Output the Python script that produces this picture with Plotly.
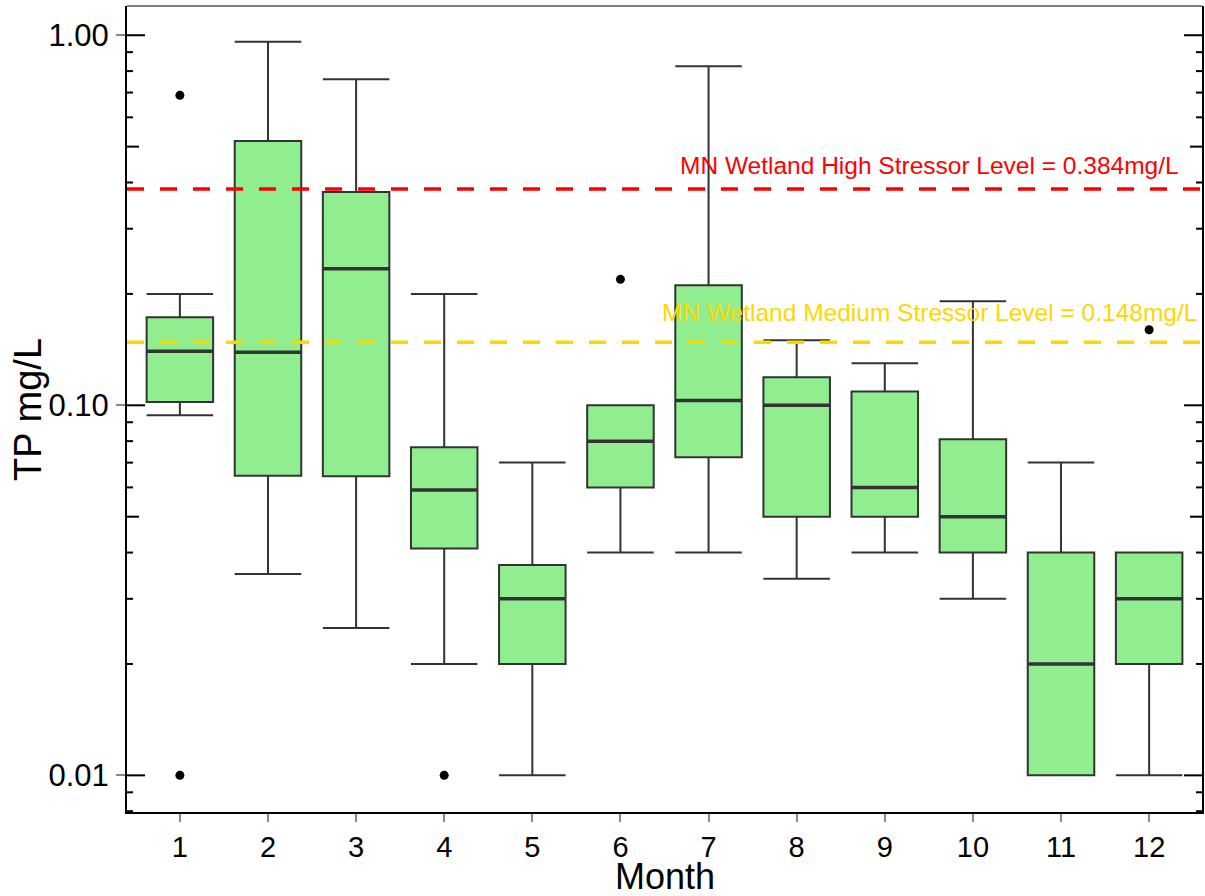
import math
import plotly.graph_objects as go

months = [1, 2, 3, 4, 5, 6, 7, 8, 9, 10, 11, 12]
tick_labels = ["1", "2", "3", "4", "5", "6", "7", "8", "9", "10", "11", "12"]
lower_whisker = [0.094, 0.035, 0.025, 0.020, 0.010, 0.040, 0.040, 0.034, 0.040, 0.030, 0.010, 0.010]
q1_vals = [0.102, 0.0645, 0.0643, 0.041, 0.020, 0.060, 0.0724, 0.050, 0.050, 0.040, 0.010, 0.020]
median_vals = [0.140, 0.139, 0.234, 0.059, 0.030, 0.080, 0.103, 0.100, 0.060, 0.050, 0.020, 0.030]
q3_vals = [0.173, 0.518, 0.377, 0.077, 0.037, 0.100, 0.211, 0.119, 0.109, 0.081, 0.040, 0.040]
upper_whisker = [0.200, 0.960, 0.760, 0.200, 0.070, 0.100, 0.824, 0.150, 0.130, 0.191, 0.070, 0.040]

outlier_month = [1, 1, 4, 6, 12]
outlier_value = [0.688, 0.010, 0.010, 0.219, 0.160]

high_level = 0.384
medium_level = 0.148
high_label = "MN Wetland High Stressor Level = 0.384mg/L"
medium_label = "MN Wetland Medium Stressor Level = 0.148mg/L"

y_major = [0.01, 0.1, 1.0]
y_major_labels = ["0.01", "0.10", "1.00"]
y_medium = [0.05, 0.5]
y_minor = [0.008, 0.009, 0.02, 0.03, 0.04, 0.06, 0.07, 0.08, 0.09,
           0.2, 0.3, 0.4, 0.6, 0.7, 0.8, 0.9]

box_width = 0.755
x_range = [0.4, 12.6]
y_range_log = [-2.099, 0.079]
FONT = "Liberation Sans, Arial, sans-serif"

fig = go.Figure()

fig.add_trace(go.Box(
    x=months, q1=q1_vals, median=median_vals, q3=q3_vals,
    lowerfence=lower_whisker, upperfence=upper_whisker,
    width=box_width, whiskerwidth=1, boxpoints=False,
    fillcolor="#90EE90", line=dict(color="#333333", width=2),
    showlegend=False, hoverinfo="skip",
))

# thicker median segments
mx, my = [], []
for m, med in zip(months, median_vals):
    mx += [m - box_width / 2, m + box_width / 2, None]
    my += [med, med, None]
fig.add_trace(go.Scatter(x=mx, y=my, mode="lines",
                         line=dict(color="#333333", width=3.5),
                         showlegend=False, hoverinfo="skip"))

# stressor level lines
for lvl, col in [(high_level, "#FF0000"), (medium_level, "#FFD700")]:
    fig.add_trace(go.Scatter(x=x_range, y=[lvl, lvl], mode="lines",
                             line=dict(color=col, width=3.5, dash="17px,16px"),
                             showlegend=False, hoverinfo="skip"))

# outliers
fig.add_trace(go.Scatter(x=outlier_month, y=outlier_value, mode="markers",
                         marker=dict(color="black", size=9),
                         showlegend=False, hoverinfo="skip"))

shapes = []
# inside ticks on both sides
for vals, ln in [(y_major, 18), (y_medium, 12), (y_minor, 6)]:
    for v in vals:
        shapes.append(dict(type="line", xref="x domain", yref="y", xsizemode="pixel",
                           xanchor=0, x0=0, x1=ln, y0=v, y1=v,
                           line=dict(color="black", width=2)))
        shapes.append(dict(type="line", xref="x domain", yref="y", xsizemode="pixel",
                           xanchor=1, x0=-ln, x1=0, y0=v, y1=v,
                           line=dict(color="black", width=2)))
# top frame line
shapes.append(dict(type="line", xref="paper", yref="paper", x0=0, x1=1, y0=1, y1=1,
                   line=dict(color="#555555", width=1.5)))

annotations = [
    dict(text=high_label, xref="paper", yref="y", x=0.9808, y=math.log10(high_level),
         xanchor="right", yanchor="middle", yshift=24, showarrow=False,
         font=dict(family=FONT, size=24.5, color="#FF0000")),
    dict(text=medium_label, xref="paper", yref="y", x=0.9972, y=math.log10(medium_level),
         xanchor="right", yanchor="middle", yshift=30, showarrow=False,
         font=dict(family=FONT, size=24.5, color="#FFD700")),
    dict(text="Month", xref="paper", yref="paper", x=0.5, y=-0.080,
         xanchor="center", yanchor="middle", showarrow=False,
         font=dict(family=FONT, size=36, color="black")),
    dict(text="TP mg/L", xref="paper", yref="paper", x=-0.0922, y=0.5,
         xanchor="center", yanchor="middle", textangle=-90, showarrow=False,
         font=dict(family=FONT, size=38, color="black")),
]

fig.update_layout(
    width=1205, height=896,
    margin=dict(l=127, r=1, t=6, b=84),
    paper_bgcolor="white", plot_bgcolor="white",
    font=dict(family=FONT, color="black"),
    showlegend=False,
    xaxis=dict(range=x_range, tickvals=months, ticktext=tick_labels,
               ticks="outside", ticklen=8, tickwidth=2, tickcolor="#888888",
               showline=True, linecolor="black", linewidth=2, showgrid=False,
               zeroline=False, tickfont=dict(family=FONT, size=29, color="black")),
    yaxis=dict(type="log", range=y_range_log, tickvals=y_major,
               ticktext=y_major_labels,
               ticks="outside", ticklen=9, tickwidth=2, tickcolor="#888888",
               showline=True, linecolor="black", linewidth=2, mirror=True,
               showgrid=False, zeroline=False, ticklabelstandoff=1,
               tickfont=dict(family=FONT, size=31, color="black")),
    shapes=shapes,
    annotations=annotations,
)

fig.write_html("out.html", config={"displayModeBar": False},
               post_script="document.body.style.margin='0';document.body.style.padding='0';")
